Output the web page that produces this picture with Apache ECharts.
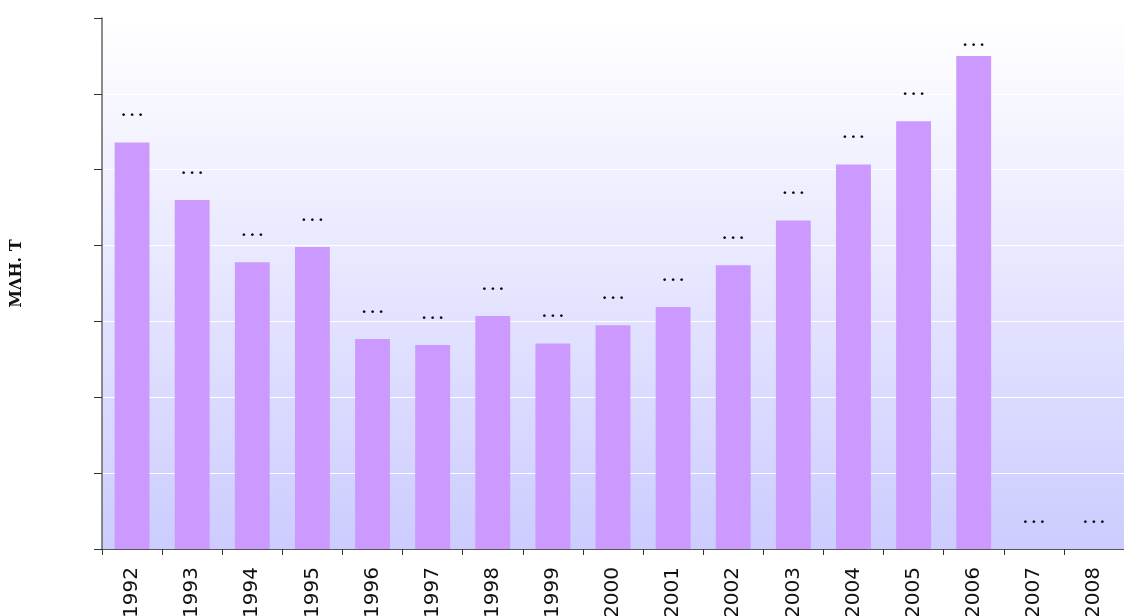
<!DOCTYPE html>
<html>
<head>
<meta charset="utf-8">
<script src="https://cdn.jsdelivr.net/npm/echarts@6/dist/echarts.min.js"></script>
<style>
html, body { margin: 0; padding: 0; background: #fff; }
#chart { width: 1124px; height: 616px; }
</style>
</head>
<body>
<div id="chart"></div>
<script>
var years = ['1992','1993','1994','1995','1996','1997','1998','1999','2000','2001','2002','2003','2004','2005','2006','2007','2008'];
var values = [53.6, 46.0, 37.8, 39.8, 27.7, 26.9, 30.7, 27.1, 29.5, 31.9, 37.4, 43.3, 50.7, 56.4, 65.0, 0, 0];
var labelText = '. . .';

var dom = document.getElementById('chart');
var myChart = echarts.init(dom);

var barData = [];
for (var i = 0; i < values.length; i++) {
	barData[i] = { value: values[i] };
	if (years[i] == '2006') {
		barData[i].label = { distance: 6 };
	}
}

var option = {
	animation: false,
	grid: {
		left: 102,
		right: 0,
		top: 18,
		bottom: 67,
		outerBoundsMode: 'none',
		containLabel: false,
		show: true,
		borderWidth: 0,
		backgroundColor: new echarts.graphic.LinearGradient(0, 0, 0, 1, [
			{ offset: 0, color: '#ffffff' },
			{ offset: 1, color: '#ccccff' }
		])
	},
	xAxis: {
		type: 'category',
		data: years,
		axisLine: { lineStyle: { color: '#555', width: 1 } },
		axisTick: { show: true, length: 6, lineStyle: { color: '#333' } },
		axisLabel: {
			rotate: 90,
			margin: 18,
			fontFamily: 'DejaVu Sans',
			fontSize: 20,
			color: '#111'
		}
	},
	yAxis: {
		type: 'value',
		min: 0,
		max: 70,
		interval: 10,
		name: 'ΜΛΗ. Τ',
		nameLocation: 'middle',
		nameGap: 77,
		nameRotate: 90,
		nameTextStyle: {
			fontFamily: 'DejaVu Serif',
			fontWeight: 'bold',
			fontSize: 16,
			color: '#111',
			padding: [0, 0, 0, 20]
		},
		axisLine: { show: true, lineStyle: { color: '#666', width: 1.5 } },
		axisTick: { show: true, length: 8, lineStyle: { color: '#333' } },
		axisLabel: { show: false },
		splitLine: { show: true, lineStyle: { color: '#ffffff', width: 1 } }
	},
	series: [
		{
			type: 'bar',
			data: barData,
			barWidth: '58%',
			itemStyle: { color: '#cc99ff' },
			label: {
				show: true,
				position: 'top',
				distance: 22,
				formatter: labelText,
				fontFamily: 'Liberation Serif',
				fontWeight: 'bold',
				fontSize: 17,
				color: '#000'
			}
		}
	]
};

myChart.setOption(option, true);
</script>
</body>
</html>
